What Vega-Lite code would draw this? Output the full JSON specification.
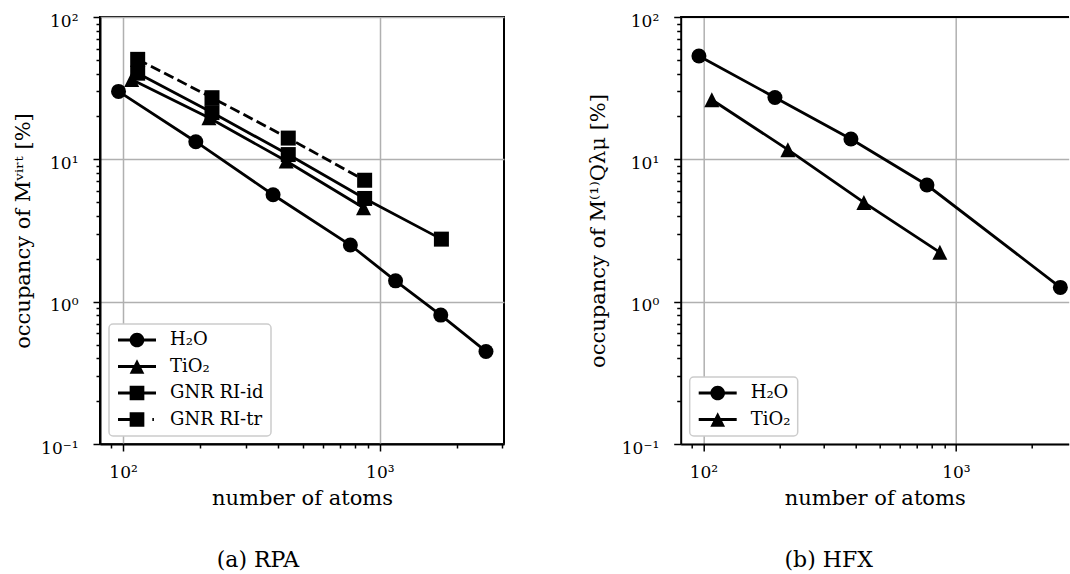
{
  "$schema": "https://vega.github.io/schema/vega-lite/v6.json",
  "background": "white",
  "autosize": {"type": "pad"},
  "padding": {"left": 11, "top": 11, "right": 0, "bottom": 0},
  "bounds": "flush",
  "spacing": 176.7,
  "config": {
    "font": "DejaVu Serif",
    "view": {"stroke": "black", "strokeWidth": 2},
    "axis": {
      "domainColor": "black", "domainWidth": 2, "grid": true,
      "tickColor": "black", "tickWidth": 1.5,
      "labelFont": "DejaVu Serif", "labelFontSize": 17, "labelColor": "black",
      "titleFont": "DejaVu Serif", "titleFontSize": 21, "titleFontWeight": "normal", "titleColor": "black",
      "gridColor": "#b0b0b0", "gridWidth": 1.5,
      "labelOverlap": false, "labelFlush": false
    },
    "legend": {
      "orient": "bottom-left", "offset": 8.5,
      "padding": 7, "fillColor": "white", "strokeColor": "#cccccc", "strokeWidth": 1.5, "cornerRadius": 4,
      "labelFont": "DejaVu Serif", "labelFontSize": 18, "labelColor": "black",
      "rowPadding": 8.5, "symbolSize": 196, "symbolStrokeWidth": 0,
      "symbolFillColor": "black", "symbolStrokeColor": "black",
      "symbolOffset": 12, "labelOffset": 24
    },
    "title": {"font": "DejaVu Serif", "fontSize": 22, "fontWeight": "normal", "color": "black"}
  },
  "datasets": {
    "pts": [
      {"panel": "RPA", "series": "H₂O", "atoms": 96, "occ": 30.0},
      {"panel": "RPA", "series": "H₂O", "atoms": 192, "occ": 13.3},
      {"panel": "RPA", "series": "H₂O", "atoms": 384, "occ": 5.64},
      {"panel": "RPA", "series": "H₂O", "atoms": 768, "occ": 2.50},
      {"panel": "RPA", "series": "H₂O", "atoms": 1152, "occ": 1.40},
      {"panel": "RPA", "series": "H₂O", "atoms": 1728, "occ": 0.805},
      {"panel": "RPA", "series": "H₂O", "atoms": 2592, "occ": 0.447},
      {"panel": "RPA", "series": "TiO₂", "atoms": 108, "occ": 36.4},
      {"panel": "RPA", "series": "TiO₂", "atoms": 216, "occ": 19.6},
      {"panel": "RPA", "series": "TiO₂", "atoms": 432, "occ": 9.73},
      {"panel": "RPA", "series": "TiO₂", "atoms": 864, "occ": 4.57},
      {"panel": "RPA", "series": "GNR RI-id", "atoms": 114, "occ": 40.3},
      {"panel": "RPA", "series": "GNR RI-id", "atoms": 222, "occ": 21.3},
      {"panel": "RPA", "series": "GNR RI-id", "atoms": 440, "occ": 10.8},
      {"panel": "RPA", "series": "GNR RI-id", "atoms": 873, "occ": 5.31},
      {"panel": "RPA", "series": "GNR RI-id", "atoms": 1738, "occ": 2.75},
      {"panel": "RPA", "series": "GNR RI-tr", "atoms": 114, "occ": 50.4},
      {"panel": "RPA", "series": "GNR RI-tr", "atoms": 222, "occ": 27.1},
      {"panel": "RPA", "series": "GNR RI-tr", "atoms": 440, "occ": 14.1},
      {"panel": "RPA", "series": "GNR RI-tr", "atoms": 873, "occ": 7.13},
      {"panel": "HFX", "series": "H₂O", "atoms": 96, "occ": 53.2},
      {"panel": "HFX", "series": "H₂O", "atoms": 192, "occ": 27.2},
      {"panel": "HFX", "series": "H₂O", "atoms": 384, "occ": 13.9},
      {"panel": "HFX", "series": "H₂O", "atoms": 768, "occ": 6.6},
      {"panel": "HFX", "series": "H₂O", "atoms": 2592, "occ": 1.26},
      {"panel": "HFX", "series": "TiO₂", "atoms": 108, "occ": 26.2},
      {"panel": "HFX", "series": "TiO₂", "atoms": 216, "occ": 11.7},
      {"panel": "HFX", "series": "TiO₂", "atoms": 432, "occ": 4.98},
      {"panel": "HFX", "series": "TiO₂", "atoms": 864, "occ": 2.22}
    ]
  },
  "resolve": {"scale": {"shape": "independent", "x": "independent", "y": "independent"}, "legend": {"shape": "independent"}},
  "hconcat": [
    {
      "width": 404, "height": 427,
      "data": {"name": "pts"},
      "transform": [{"filter": "datum.panel == 'RPA'"}],
      "title": {"text": "(a) RPA", "orient": "bottom", "anchor": "middle", "frame": "bounds", "offset": 42},
      "encoding": {
        "x": {"field": "atoms", "type": "quantitative",
          "scale": {"type": "log", "domain": [81.3, 3047], "nice": false},
          "axis": {"title": "number of atoms", "grid": true,
            "values": [90, 100, 200, 300, 400, 500, 600, 700, 800, 900, 1000, 2000, 3000],
            "labelExpr": "datum.value == 100 ? '10²' : datum.value == 1000 ? '10³' : ''",
            "tickSize": {"condition": {"test": "datum.value == 100 || datum.value == 1000", "value": 7}, "value": 4},
            "gridOpacity": {"condition": {"test": "datum.value == 100 || datum.value == 1000", "value": 1}, "value": 0},
            "labelBaseline": "alphabetic", "labelPadding": 26,
            "titleY": 60, "titleBaseline": "alphabetic"}},
        "y": {"field": "occ", "type": "quantitative",
          "scale": {"type": "log", "domain": [0.1, 100], "nice": false},
          "axis": {"title": "occupancy of Mᵛⁱʳᵗ [%]", "grid": true,
            "values": [0.1, 0.2, 0.3, 0.4, 0.5, 0.6, 0.7, 0.8, 0.9, 1, 2, 3, 4, 5, 6, 7, 8, 9, 10, 20, 30, 40, 50, 60, 70, 80, 90, 100],
            "labelExpr": "datum.value == 100 ? '10²' : datum.value == 10 ? '10¹' : datum.value == 1 ? '10⁰' : datum.value == 0.1 ? '10⁻¹' : ''",
            "tickSize": {"condition": {"test": "datum.value == 100 || datum.value == 10 || datum.value == 1 || datum.value == 0.1", "value": 7}, "value": 4},
            "gridOpacity": {"condition": {"test": "datum.value == 100 || datum.value == 10 || datum.value == 1 || datum.value == 0.1", "value": 1}, "value": 0},
            "labelPadding": 15, "labelOffset": 4,
            "titleX": -71, "titleBaseline": "alphabetic"}}
      },
      "layer": [
        {
          "transform": [{"filter": "datum.series != 'GNR RI-tr'"}],
          "mark": {"type": "line", "color": "black", "strokeWidth": 2.8},
          "encoding": {"detail": {"field": "series", "type": "nominal"}}
        },
        {
          "transform": [{"filter": "datum.series == 'GNR RI-tr'"}],
          "mark": {"type": "line", "color": "black", "strokeWidth": 2.8, "strokeDash": [10.4, 4.5]},
          "encoding": {}
        },
        {
          "transform": [{"filter": "datum.series == 'H₂O'"}],
          "mark": {"type": "point", "filled": true, "color": "black", "size": 225, "opacity": 1, "shape": "circle"}
        },
        {
          "transform": [{"filter": "datum.series == 'TiO₂'"}],
          "mark": {"type": "point", "filled": true, "color": "black", "size": 225, "opacity": 1, "shape": "M0,-1L1,1L-1,1Z"}
        },
        {
          "transform": [{"filter": "datum.series == 'GNR RI-id' || datum.series == 'GNR RI-tr'"}],
          "mark": {"type": "point", "filled": true, "color": "black", "size": 225, "opacity": 1, "shape": "square"}
        },
        {
          "transform": [{"filter": "false"}],
          "mark": {"type": "point", "filled": true, "color": "black", "size": 196, "opacity": 1},
          "encoding": {
            "shape": {"field": "series", "type": "nominal",
              "scale": {"domain": ["H₂O", "TiO₂", "GNR RI-id", "GNR RI-tr"],
                "range": [
                  "M-2.714,-0.2H2.714V0.2H-2.714ZM1.05,0A1.05,1.05,0,1,1,-1.05,0A1.05,1.05,0,1,1,1.05,0Z",
                  "M-2.714,-0.2H2.714V0.2H-2.714ZM0,-1.05L1.05,1.05L-1.05,1.05Z",
                  "M-2.714,-0.2H2.714V0.2H-2.714ZM-1.05,-1.05H1.05V1.05H-1.05Z",
                  "M-2.714,-0.2H0V0.2H-2.714ZM2.19,-0.2H2.42V0.2H2.19ZM-1.05,-1.05H1.05V1.05H-1.05Z"]},
              "legend": {"title": null, "symbolFillColor": "black", "symbolOpacity": 1}
            }
          }
        }
      ]
    },
    {
      "width": 388, "height": 427,
      "view": {"stroke": null},
      "data": {"name": "pts"},
      "transform": [{"filter": "datum.panel == 'HFX'"}],
      "layer": [
        {
          "mark": {"type": "line", "color": "black", "strokeWidth": 2.8},
          "encoding": {
            "x": {"field": "atoms", "type": "quantitative",
              "scale": {"type": "log", "domain": [81.3, 2797], "nice": false},
              "axis": {"title": "number of atoms", "grid": true,
                "values": [90, 100, 200, 300, 400, 500, 600, 700, 800, 900, 1000, 2000],
                "labelExpr": "datum.value == 100 ? '10²' : datum.value == 1000 ? '10³' : ''",
                "tickSize": {"condition": {"test": "datum.value == 100 || datum.value == 1000", "value": 7}, "value": 4},
                "gridOpacity": {"condition": {"test": "datum.value == 100 || datum.value == 1000", "value": 1}, "value": 0},
                "labelBaseline": "alphabetic", "labelPadding": 26,
                "titleY": 60, "titleBaseline": "alphabetic"}},
            "y": {"field": "occ", "type": "quantitative",
              "scale": {"type": "log", "domain": [0.1, 100], "nice": false},
              "axis": {"title": "occupancy of M⁽¹⁾Qλμ [%]", "grid": true,
                "values": [0.1, 0.2, 0.3, 0.4, 0.5, 0.6, 0.7, 0.8, 0.9, 1, 2, 3, 4, 5, 6, 7, 8, 9, 10, 20, 30, 40, 50, 60, 70, 80, 90, 100],
                "labelExpr": "datum.value == 100 ? '10²' : datum.value == 10 ? '10¹' : datum.value == 1 ? '10⁰' : datum.value == 0.1 ? '10⁻¹' : ''",
                "tickSize": {"condition": {"test": "datum.value == 100 || datum.value == 10 || datum.value == 1 || datum.value == 0.1", "value": 7}, "value": 4},
                "gridOpacity": {"condition": {"test": "datum.value == 100 || datum.value == 10 || datum.value == 1 || datum.value == 0.1", "value": 1}, "value": 0},
                "labelPadding": 15, "labelOffset": 4,
                "titleX": -76, "titleBaseline": "alphabetic"}},
            "detail": {"field": "series", "type": "nominal"}
          }
        },
        {
          "transform": [{"filter": "datum.series == 'H₂O'"}],
          "mark": {"type": "point", "filled": true, "color": "black", "size": 225, "opacity": 1, "shape": "circle"},
          "encoding": {"x": {"field": "atoms", "type": "quantitative"}, "y": {"field": "occ", "type": "quantitative"}}
        },
        {
          "transform": [{"filter": "datum.series == 'TiO₂'"}],
          "mark": {"type": "point", "filled": true, "color": "black", "size": 225, "opacity": 1, "shape": "M0,-1L1,1L-1,1Z"},
          "encoding": {"x": {"field": "atoms", "type": "quantitative"}, "y": {"field": "occ", "type": "quantitative"}}
        },
        {
          "transform": [{"filter": "false"}],
          "mark": {"type": "point", "filled": true, "color": "black", "size": 196, "opacity": 1},
          "encoding": {
            "x": {"field": "atoms", "type": "quantitative"}, "y": {"field": "occ", "type": "quantitative"},
            "shape": {"field": "series", "type": "nominal",
              "scale": {"domain": ["H₂O", "TiO₂"],
                "range": [
                  "M-2.714,-0.2H2.714V0.2H-2.714ZM1.05,0A1.05,1.05,0,1,1,-1.05,0A1.05,1.05,0,1,1,1.05,0Z",
                  "M-2.714,-0.2H2.714V0.2H-2.714ZM0,-1.05L1.05,1.05L-1.05,1.05Z"]},
              "legend": {"title": null, "symbolFillColor": "black", "symbolOpacity": 1}
            }
          }
        },
        {
          "mark": {"type": "rule", "color": "black", "strokeWidth": 2},
          "encoding": {"y": {"datum": 100, "type": "quantitative"}}
        }
      ],
      "title": {"text": "(b) HFX", "orient": "bottom", "anchor": "middle", "frame": "bounds", "offset": 42}
    }
  ]
}
